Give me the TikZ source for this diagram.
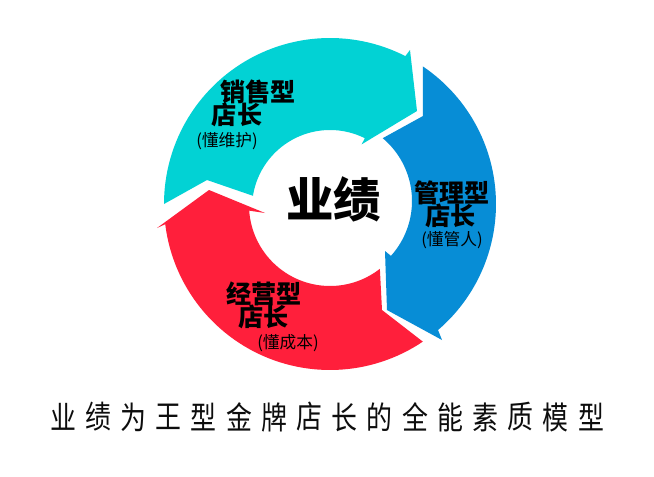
\documentclass[tikz,border=0pt]{standalone}
\usepackage{fontspec}
\setmainfont{Noto Sans CJK SC}
\definecolor{cyanc}{HTML}{02D2D4}
\definecolor{bluec}{HTML}{078DD6}
\definecolor{redc}{HTML}{FF1F3B}
\begin{document}
\begin{tikzpicture}[x=0.02cm,y=-0.02cm,
  lab/.style={font=\bfseries\fontsize{14.3}{16}\selectfont, inner sep=0},
  sub/.style={font=\fontsize{9.5}{11}\selectfont, inner sep=0},
  big/.style={font=\bfseries\fontsize{27}{30}\selectfont, inner sep=0},
  ttl/.style={font=\fontsize{18}{20}\selectfont, inner sep=0, text=black!95}]
\useasboundingbox (0,0) rectangle (654,477);
\fill[white] (0,0) rectangle (654,477);
% cyan arrow (top-left to top-right)
\fill[cyanc] (164,204)
  -- plot[domain=180:297,samples=60] ({330+166*cos(\x)},{204+166*sin(\x)})
  -- (410,50) -- (417,111) -- (361.7,144.3)
  -- plot[domain=296.5:189,samples=60] ({330+78*cos(\x)},{208+78*sin(\x)})
  -- (207,180) -- cycle;
% blue arrow (right)
\fill[bluec] (422.8,66.4)
  -- plot[domain=304:409.4,samples=60] ({330+166*cos(\x)},{204+166*sin(\x)})
  -- (442,340) -- (387,310) -- (385,251)
  -- plot[domain=42:-50,samples=60] ({330+82*cos(\x)},{201+82*sin(\x)})
  -- (423,116) -- cycle;
% red arrow (bottom to left)
\fill[redc] (422.8,341.6)
  -- plot[domain=56:173,samples=60] ({330+166*cos(\x)},{204+166*sin(\x)})
  -- (157,228) -- (209,190) -- (265,213)
  -- plot[domain=176:52,samples=60] ({330+81*cos(\x)},{205+81*sin(\x)})
  -- (382,310) -- cycle;
% texts
\node[big] (center) at (334,199) {业绩};
\node[lab] (s1) at (258,92) {销售型};
\node[lab] (s2) at (237,115) {店长};
\node[sub] (s3) at (227,141) {(懂维护)};
\node[lab] (m1) at (452,193) {管理型};
\node[lab] (m2) at (451,216) {店长};
\node[sub] (m3) at (452,240) {(懂管人)};
\node[lab] (j1) at (264,294) {经营型};
\node[lab] (j2) at (264,317) {店长};
\node[sub] (j3) at (288,343) {(懂成本)};
\foreach \c [count=\i from 0] in {业,绩,为,王,型,金,牌,店,长,的,全,能,素,质,模,型}
  \node[ttl] (t\i) at ({63+35.2*\i},417) {\scalebox{0.82}[1]{\c}};
\end{tikzpicture}
\end{document}
